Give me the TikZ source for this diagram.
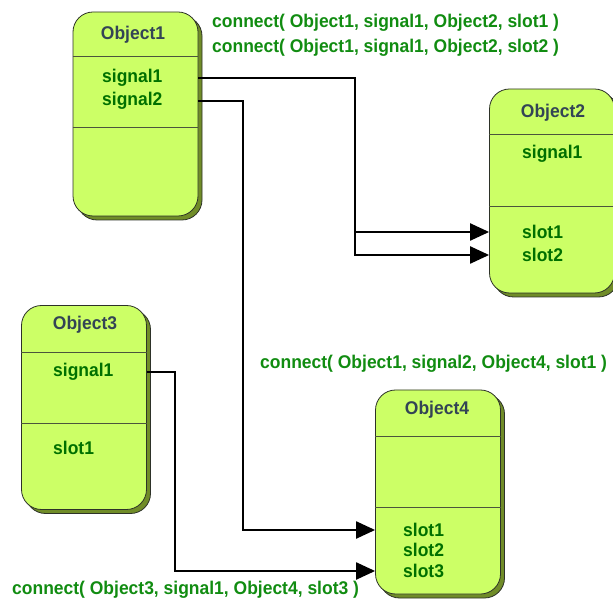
\documentclass[tikz,border=0pt]{standalone}
\usepackage{fontspec}
\setmainfont{Liberation Sans}[FakeStretch=0.95]
\usetikzlibrary{arrows.meta,shadows}
\definecolor{limefill}{RGB}{204,255,102}
\definecolor{shadowgreen}{RGB}{112,140,40}
\definecolor{boxline}{RGB}{45,50,40}
\definecolor{sepcol}{RGB}{75,85,60}
\definecolor{titlecol}{RGB}{51,68,85}
\definecolor{membercol}{RGB}{0,112,0}
\definecolor{labelcol}{RGB}{17,140,17}
\begin{document}
\begin{tikzpicture}[x=1pt, y=-1pt,
		objbox/.style={draw=boxline, line width=0.8pt, fill=limefill, rounded corners=20pt, minimum width=125pt, minimum height=204pt, inner sep=0pt, copy shadow={shadow xshift=4pt, shadow yshift=-4pt, fill=shadowgreen, draw=boxline, line width=0.8pt}},
		sepline/.style={draw=sepcol, line width=1pt},
		title/.style={titlecol, inner sep=0pt, font=\bfseries\fontsize{18.4}{21}\selectfont},
		member/.style={membercol, anchor=west, inner sep=0pt, font=\bfseries\fontsize{18.4}{21}\selectfont},
		call/.style={labelcol, anchor=west, inner sep=0pt, font=\bfseries\fontsize{18.4}{21}\selectfont},
		conn/.style={draw=black, line width=2.2pt},
		slotarrow/.style={conn, -{Triangle[length=19pt,width=17pt]}}]
		\useasboundingbox (0,0) rectangle (613,601);
		\node[objbox] (obj1) at (135.50,114.00) {};
		\node[objbox] (obj2) at (552.00,191.00) {};
		\node[objbox] (obj3) at (84.00,407.50) {};
		\node[objbox] (obj4) at (438.00,492.00) {};
		\draw[sepline] ([yshift=-45pt]obj1.north west) -- ([yshift=-45pt]obj1.north east);
		\draw[sepline] ([yshift=-116pt]obj1.north west) -- ([yshift=-116pt]obj1.north east);
		\draw[sepline] ([yshift=-46pt]obj2.north west) -- ([yshift=-46pt]obj2.north east);
		\draw[sepline] ([yshift=-118pt]obj2.north west) -- ([yshift=-118pt]obj2.north east);
		\draw[sepline] ([yshift=-47pt]obj3.north west) -- ([yshift=-47pt]obj3.north east);
		\draw[sepline] ([yshift=-118pt]obj3.north west) -- ([yshift=-118pt]obj3.north east);
		\draw[sepline] ([yshift=-47pt]obj4.north west) -- ([yshift=-47pt]obj4.north east);
		\draw[sepline] ([yshift=-118pt]obj4.north west) -- ([yshift=-118pt]obj4.north east);
		\node[title] (title1) at (133.00,35.00) {Object1};
		\node[title] (title2) at (553.00,113.00) {Object2};
		\node[title] (title3) at (85.00,325.00) {Object3};
		\node[title] (title4) at (437.00,410.00) {Object4};
		\node[member] (o1sig1) at (102.00,78.00) {signal1};
		\node[member] (o1sig2) at (102.00,101.00) {signal2};
		\node[member] (o2sig1) at (522.00,154.00) {signal1};
		\node[member] (o2slot1) at (522.00,232.00) {slot1};
		\node[member] (o2slot2) at (522.00,255.00) {slot2};
		\node[member] (o3sig1) at (53.00,372.00) {signal1};
		\node[member] (o3slot1) at (53.00,448.00) {slot1};
		\node[member] (o4slot1) at (403.00,530.00) {slot1};
		\node[member] (o4slot2) at (403.00,550.00) {slot2};
		\node[member] (o4slot3) at (403.00,571.00) {slot3};
		\node[call] (call1) at (212.00,23.00) {connect( Object1, signal1, Object2, slot1 )};
		\node[call] (call2) at (212.00,48.00) {connect( Object1, signal1, Object2, slot2 )};
		\node[call] (call3) at (260.00,364.00) {connect( Object1, signal2, Object4, slot1 )};
		\node[call] (call4) at (12.00,590.00) {connect( Object3, signal1, Object4, slot3 )};
		\coordinate (bendA) at (355.00,0.00);
		\coordinate (bendB) at (243.00,0.00);
		\coordinate (bendC) at (175.00,0.00);
		\draw[slotarrow] (o1sig1 -| obj1.east) -| (bendA |- o2slot2) -- (o2slot2 -| obj2.west);
		\draw[slotarrow] (bendA |- o2slot1) -- (o2slot1 -| obj2.west);
		\draw[slotarrow] (o1sig2 -| obj1.east) -| (bendB |- o4slot1) -- (o4slot1 -| obj4.west);
		\draw[slotarrow] (o3sig1 -| obj3.east) -| (bendC |- o4slot3) -- (o4slot3 -| obj4.west);
	\end{tikzpicture}
\end{document}
